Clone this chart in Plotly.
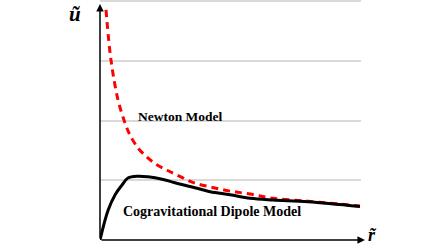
import plotly.graph_objects as go

# Newton Model (red dashed)
newton_r = [0.23, 0.42, 0.69, 0.96, 1.15, 1.46, 1.80, 2.18, 2.57, 2.95, 3.53, 4.22, 4.98, 5.75, 6.63, 7.97, 9.27, 9.96]
newton_u = [3.86, 3.02, 2.35, 1.96, 1.76, 1.54, 1.39, 1.26, 1.17, 1.09, 0.97, 0.89, 0.82, 0.77, 0.70, 0.65, 0.60, 0.57]

# Cogravitational Dipole Model (black)
dipole_r = [0.0, 0.31, 0.58, 0.84, 1.07, 1.46, 1.84, 2.38, 2.87, 3.53, 4.22, 4.98, 5.75, 6.63, 7.97, 9.96]
dipole_u = [0.0, 0.50, 0.76, 0.92, 1.04, 1.07, 1.06, 1.02, 0.96, 0.89, 0.81, 0.76, 0.70, 0.67, 0.64, 0.56]

grid_levels = [1, 2, 3, 4]

fig = go.Figure()
fig.add_trace(go.Scatter(x=newton_r, y=newton_u, mode="lines", line_shape="spline",
                         line=dict(color="#ff0000", width=3, dash="7px,5px"), hoverinfo="skip"))
fig.add_trace(go.Scatter(x=dipole_r, y=dipole_u, mode="lines", line_shape="spline",
                         line=dict(color="black", width=3), hoverinfo="skip"))

serif = "Liberation Serif"
annotations = [
    dict(x=0, y=3.96, ax=0, ay=0, xref="x", yref="y", axref="x", ayref="y", text="",
         showarrow=True, arrowhead=2, arrowsize=1, arrowwidth=1.5, arrowcolor="black", standoff=0),
    dict(x=10.15, y=0, ax=0, ay=0, xref="x", yref="y", axref="x", ayref="y", text="",
         showarrow=True, arrowhead=2, arrowsize=1, arrowwidth=1.5, arrowcolor="black", standoff=0),
    dict(x=3.10, y=2.07, xref="x", yref="y", text="<b>Newton Model</b>", showarrow=False,
         font=dict(family=serif, size=13.5, color="black")),
    dict(x=4.29, y=0.47, xref="x", yref="y", text="<b>Cogravitational Dipole Model</b>", showarrow=False,
         font=dict(family=serif, size=14, color="black")),
    dict(x=-0.127, y=1.0, xref="paper", yref="paper", yanchor="top", text="<b><i>u\u0303</i></b>",
         showarrow=False, font=dict(family=serif, size=21, color="black")),
    dict(x=1.07, y=-0.03, xref="paper", yref="paper", text="<b><i>r\u0303</i></b>", showarrow=False,
         font=dict(family=serif, size=18, color="black")),
]

fig.update_layout(
    width=448, height=252,
    margin=dict(l=100, r=87, t=0, b=12),
    paper_bgcolor="white", plot_bgcolor="white",
    showlegend=False,
    annotations=annotations,
    xaxis=dict(range=[0, 10], showgrid=False, zeroline=False, showline=False,
               showticklabels=False, ticks=""),
    yaxis=dict(range=[0, 4.025], tickvals=grid_levels, showgrid=True, gridcolor="#d9d9d9",
               gridwidth=2, zeroline=False, showline=False, showticklabels=False, ticks=""),
)

fig.write_html("out.html", config={"displayModeBar": False},
               post_script="document.body.style.margin='0px';")
